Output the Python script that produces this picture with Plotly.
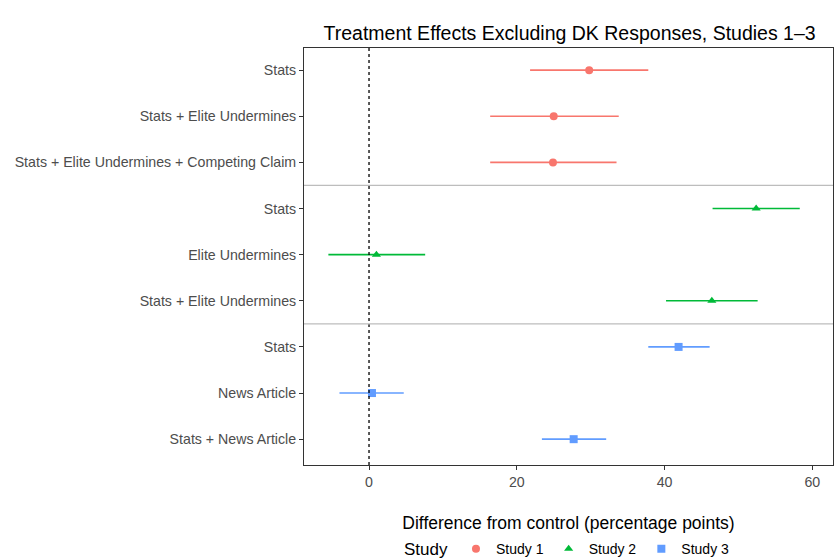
import plotly.graph_objects as go

labels = ["Stats", "Stats + Elite Undermines", "Stats + Elite Undermines + Competing Claim",
          "Stats", "Elite Undermines", "Stats + Elite Undermines",
          "Stats", "News Article", "Stats + News Article"]
study = ["Study 1"]*3 + ["Study 2"]*3 + ["Study 3"]*3
est = [29.8, 25.0, 24.9, 52.4, 1.0, 46.4, 41.9, 0.4, 27.7]
lo = [21.8, 16.4, 16.4, 46.5, -5.5, 40.2, 37.8, -4.0, 23.4]
hi = [37.8, 33.8, 33.5, 58.3, 7.6, 52.6, 46.1, 4.7, 32.1]

colors = {"Study 1": "#F8766D", "Study 2": "#00BA38", "Study 3": "#619CFF"}
symbols = {"Study 1": "circle", "Study 2": "triangle-up", "Study 3": "square"}

fig = go.Figure()
for s in ["Study 1", "Study 2", "Study 3"]:
    idx = [i for i in range(len(est)) if study[i] == s]
    fig.add_trace(go.Scatter(
        x=[est[i] for i in idx], y=[i + 1 for i in idx], mode="markers", name=s,
        marker=dict(color=colors[s], symbol=symbols[s], size=8),
        error_x=dict(type="data", symmetric=False,
                     array=[hi[i] - est[i] for i in idx],
                     arrayminus=[est[i] - lo[i] for i in idx],
                     color=colors[s], thickness=1.6, width=0)))

fig.add_vline(x=0, line=dict(color="black", dash="dot", width=1.3))
for yv in [3.5, 6.5]:
    fig.add_hline(y=yv, line=dict(color="#bdbdbd", width=1.3))

fig.update_layout(
    width=834, height=558, plot_bgcolor="white", paper_bgcolor="white",
    margin=dict(l=304, r=1, t=48, b=93, autoexpand=False),
    font=dict(family="Liberation Sans, Arial, sans-serif", color="#4d4d4d", size=14.2),
    title=dict(text="Treatment Effects Excluding DK Responses, Studies 1\u20133",
               x=0.683, xanchor="center", y=0.94, yanchor="middle",
               font=dict(size=19.5, color="black")),
    xaxis=dict(range=[-8.8, 62.8], tickvals=[0, 20, 40, 60], showgrid=False, zeroline=False,
               showline=True, linecolor="#333", mirror=True, ticks="outside", ticklen=4,
               tickcolor="#333", automargin=False,
               title=dict(text="Difference from control (percentage points)",
                          font=dict(size=17.5, color="black"), standoff=36)),
    yaxis=dict(range=[9.56, 0.52], tickvals=list(range(1, 10)), ticktext=labels,
               showgrid=False, zeroline=False, showline=True, linecolor="#333", mirror=True,
               ticks="outside", ticklen=4, tickcolor="#333", automargin=False),
    legend=dict(orientation="h", x=0.5, xanchor="center", yref="container", y=0.015,
                yanchor="middle",
                title=dict(text="Study", font=dict(size=17, color="black")),
                font=dict(size=14, color="black")),
)
fig.write_html("out.html", config={"displayModeBar": False},
               post_script="document.body.style.margin='0';")
